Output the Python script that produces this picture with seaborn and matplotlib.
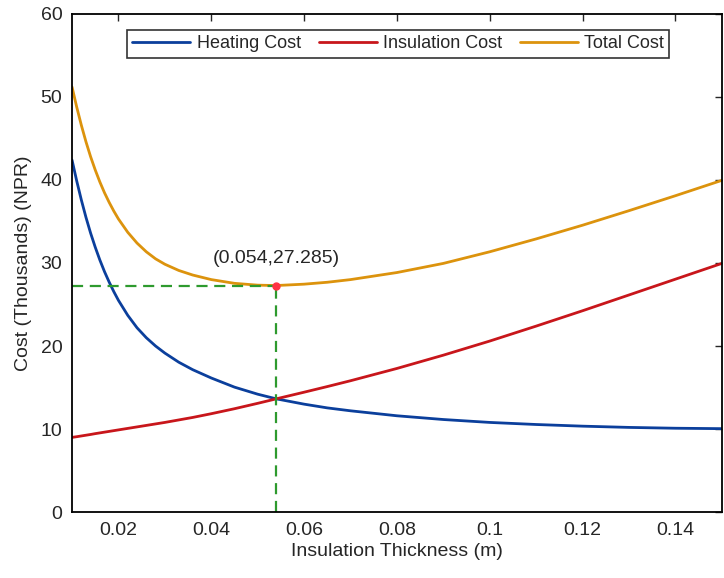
import matplotlib
matplotlib.use("Agg")
import matplotlib.pyplot as plt
import pandas as pd
import seaborn as sns

# insulation thickness (m)
thickness = [0.010, 0.011, 0.012, 0.013, 0.014, 0.015, 0.016, 0.017, 0.018, 0.019,
             0.020, 0.022, 0.024, 0.026, 0.028, 0.030, 0.033, 0.036, 0.040, 0.045,
             0.050, 0.054, 0.060, 0.065, 0.070, 0.080, 0.090, 0.100, 0.110, 0.120,
             0.130, 0.140, 0.150]
# costs in thousands NPR
heating_cost = [42.4, 39.9, 37.6, 35.5, 33.6, 31.9, 30.35, 28.95, 27.7, 26.55,
                25.5, 23.7, 22.2, 21.0, 20.0, 19.15, 18.05, 17.15, 16.15, 15.05,
                14.2, 13.64, 13.0, 12.55, 12.2, 11.6, 11.15, 10.8, 10.55, 10.35,
                10.2, 10.1, 10.05]
insulation_cost = [9.0, 9.08, 9.17, 9.26, 9.35, 9.45, 9.54, 9.63, 9.72, 9.81,
                   9.9, 10.08, 10.26, 10.44, 10.62, 10.8, 11.1, 11.4, 11.85, 12.45,
                   13.1, 13.64, 14.44, 15.12, 15.82, 17.3, 18.9, 20.6, 22.4, 24.25,
                   26.15, 28.05, 29.95]
total_cost = [51.2, 48.8, 46.6, 44.6, 42.8, 41.2, 39.75, 38.45, 37.3, 36.25,
              35.3, 33.7, 32.4, 31.35, 30.5, 29.85, 29.1, 28.55, 28.0, 27.55,
              27.33, 27.285, 27.45, 27.68, 28.0, 28.85, 29.95, 31.35, 32.9, 34.55,
              36.3, 38.1, 39.95]
opt_x, opt_y = 0.054, 27.285

n = len(thickness)
df = pd.DataFrame({
    "thickness": thickness * 3,
    "cost": heating_cost + insulation_cost + total_cost,
    "series": ["Heating Cost"] * n + ["Insulation Cost"] * n + ["Total Cost"] * n,
})

sns.set_style("white")
plt.rcParams["font.family"] = ["Liberation Sans", "DejaVu Sans"]
plt.rcParams["xtick.direction"] = "in"
plt.rcParams["ytick.direction"] = "in"

fig = plt.figure(figsize=(7.24, 5.78), dpi=100)
ax = fig.add_axes([0.0995, 0.114, 0.8975, 0.862])

palette = {"Heating Cost": "#0b3f9c", "Insulation Cost": "#c8161b", "Total Cost": "#dc930d"}
sns.lineplot(data=df, x="thickness", y="cost", hue="series", palette=palette,
             linewidth=2, ax=ax)

# optimum point and guide lines
ax.plot([0.01, opt_x], [opt_y, opt_y], ls=(0, (5, 3)), color="#2e9a2e", lw=1.6)
ax.plot([opt_x, opt_x], [0, opt_y], ls=(0, (5, 3)), color="#2e9a2e", lw=1.6)
ax.plot(opt_x, opt_y, "o", color="#ff3344", ms=5)
ax.text(opt_x, opt_y + 2.2, "(0.054,27.285)", ha="center", va="bottom", fontsize=14)

ax.set_xlim(0.01, 0.15)
ax.set_ylim(0, 60)
ax.set_xticks([0.02, 0.04, 0.06, 0.08, 0.1, 0.12, 0.14])
ax.set_xticklabels(["0.02", "0.04", "0.06", "0.08", "0.1", "0.12", "0.14"])
ax.set_yticks(range(0, 61, 10))
ax.tick_params(labelsize=14, top=True, right=True, length=5, width=1, pad=7)
ax.set_xlabel("Insulation Thickness (m)", fontsize=14, labelpad=3)
ax.set_ylabel("Cost (Thousands) (NPR)", fontsize=14, labelpad=6)
for s in ax.spines.values():
    s.set_linewidth(1.3)
    s.set_color("black")

leg = ax.legend(loc="upper center", bbox_to_anchor=(0.502, 0.968), ncol=3, fontsize=13,
                frameon=True, fancybox=False, handlelength=3.2, columnspacing=1.0,
                handletextpad=0.35, borderpad=0.3, borderaxespad=0)
leg.get_frame().set_edgecolor("black")
leg.get_frame().set_linewidth(1.2)

fig.savefig("out.png", dpi=100)
